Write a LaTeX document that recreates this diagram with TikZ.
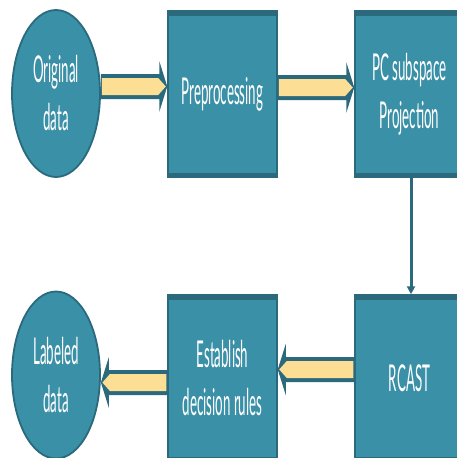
\documentclass[tikz,border=0pt]{standalone}
\usepackage{fontspec}
\setmainfont{Lato}
\usepackage{graphicx}
\usetikzlibrary{shapes.geometric,arrows.meta,calc}
\definecolor{ateal}{HTML}{3A90A7}
\definecolor{adark}{HTML}{2A6A7C}
\definecolor{ayellow}{HTML}{FDDE95}
\newcommand{\sq}[1]{\scalebox{0.36}[1]{#1}}
\newcommand{\fatarrow}[2]{%
  \fill[adark] let \p1=(#1), \p2=(#2), \n1={sign(\x2-\x1)} in
    (\x1,\y1+12.5pt) -- (\x2-\n1*8pt,\y1+12.5pt) -- (\x2-\n1*8pt,\y1+25.5pt) -- (\x2,\y1)
    -- (\x2-\n1*8pt,\y1-25.5pt) -- (\x2-\n1*8pt,\y1-12.5pt) -- (\x1,\y1-12.5pt) -- cycle;
  \fill[ayellow] let \p1=(#1), \p2=(#2), \n1={sign(\x2-\x1)} in
    (\x1+\n1*1pt,\y1+8.5pt) -- (\x2-\n1*9pt,\y1+8.5pt) -- (\x2-\n1*1.5pt,\y1)
    -- (\x2-\n1*9pt,\y1-8.5pt) -- (\x1+\n1*1pt,\y1-8.5pt) -- cycle;}
\tikzset{
  txt/.style={text=white, align=center, font=\fontsize{37}{48}\selectfont},
  blob/.style={ellipse, fill=ateal, draw=adark, line width=1.8pt, minimum width=88pt,
    minimum height=167pt, inner sep=0pt, txt},
  stage/.style={rectangle, fill=ateal, draw=adark, line width=1.5pt, minimum width=109pt,
    minimum height=166pt, inner sep=0pt, txt,
    path picture={
      \fill[adark] (path picture bounding box.north west) rectangle ([yshift=-4.5pt]path picture bounding box.north east);
      \fill[adark] (path picture bounding box.south west) rectangle ([yshift=4.5pt]path picture bounding box.south east);}},
  link/.style={adark, line width=3pt, -{Triangle[length=8pt,width=8pt]}}
}
\begin{document}
\begin{tikzpicture}[x=1pt,y=-1pt]
\useasboundingbox (0,0) rectangle (457,458);
\node[blob]  (orig) at (56,93.5)   {\sq{Original}\\\sq{data}};
\node[stage] (pre)  at (222.5,94)  {\sq{Preprocessing}};
\node[stage] (pc)   at (409.5,94)  {\sq{PC subspace}\\\sq{Projection}};
\node[stage] (rc)   at (409.5,378) {\sq{RCAST}};
\node[stage] (est)  at (222.5,378) {\sq{Establish}\\\sq{decision rules}};
\node[blob]  (lab)  at (56,375)    {\sq{Labeled}\\\sq{data}};
\fatarrow{[yshift=7pt]orig.east}{[yshift=7pt]pre.west}
\fatarrow{[yshift=6.5pt]pre.east}{[yshift=6.5pt]pc.west}
\fatarrow{[yshift=8.5pt]rc.west}{[yshift=8.5pt]est.east}
\fatarrow{[yshift=-4.5pt]est.west}{[yshift=-4.5pt]lab.east}
\draw[link] ([xshift=1.5pt]pc.south) -- ([xshift=1.5pt]rc.north);
\end{tikzpicture}
\end{document}
